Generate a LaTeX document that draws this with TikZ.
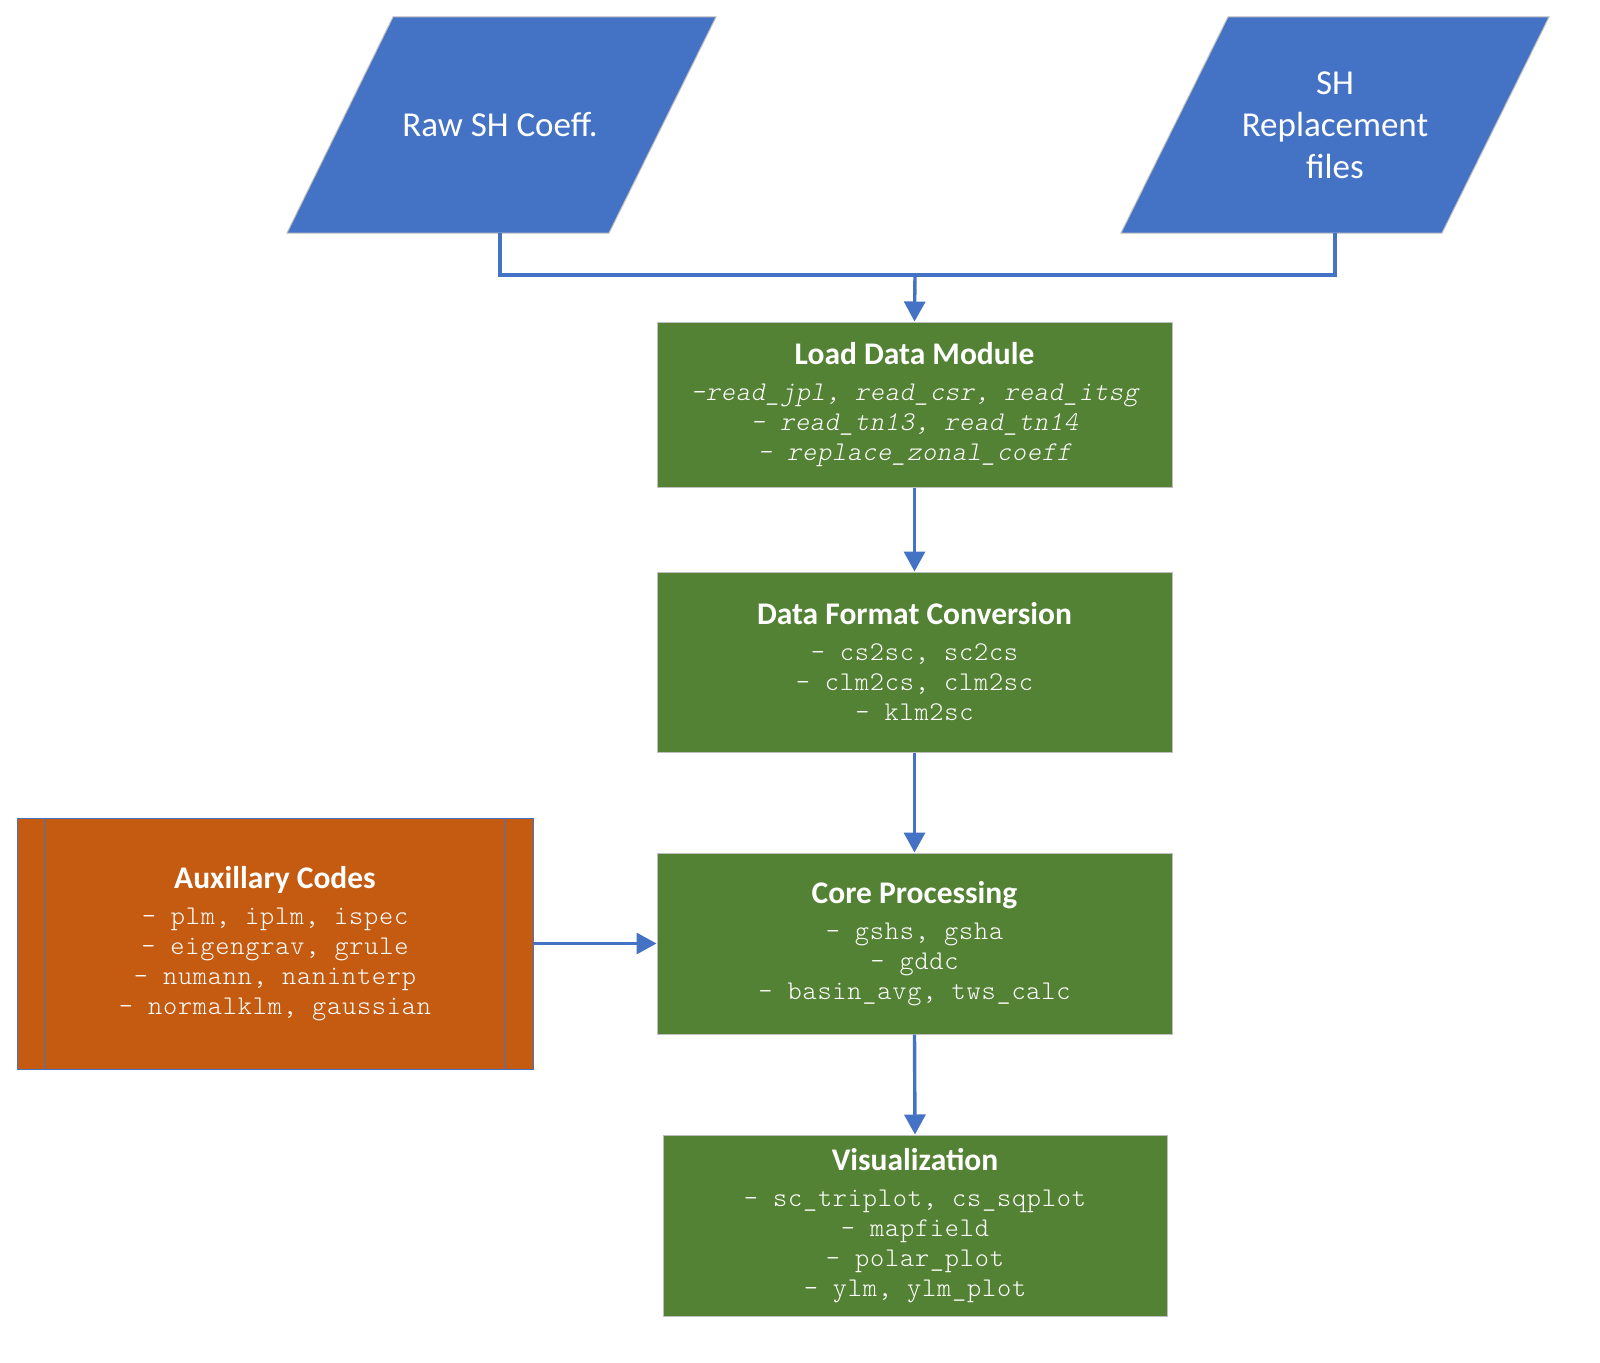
\documentclass[tikz,border=0pt]{standalone}
\usepackage{fontspec}
\setmainfont{Carlito}
\newfontfamily\cmono[LetterSpace=3]{Latin Modern Mono Light}
\newfontfamily\cmonoit[LetterSpace=3,FakeSlant=0.2]{Latin Modern Mono Light}
\usetikzlibrary{arrows.meta}
\definecolor{cblue}{HTML}{4472C4}
\definecolor{cgreen}{HTML}{548235}
\definecolor{corange}{HTML}{C55A11}
\definecolor{cedge}{HTML}{BFBFBF}
\tikzset{
  para/.style={fill=cblue, draw=cedge, line width=1pt},
  paratext/.style={text=white, align=center, font=\fontsize{35}{42}\selectfont},
  gbox/.style={fill=cgreen, draw=cedge, line width=1pt, text=white, align=center,
    inner sep=0pt, font=\cmono\fontsize{27}{30}\selectfont},
  obox/.style={fill=corange, draw=cblue, line width=0.8pt, text=white, align=center,
    inner sep=0pt, font=\cmono\fontsize{27}{30}\selectfont},
  conn/.style={draw=cblue, line width=3.4pt},
  arr/.style={conn, -{Triangle[length=20pt,width=21pt]}},
}
\newcommand{\ttl}[1]{{\fontspec{Carlito}\bfseries\fontsize{31.5}{31.5}\selectfont #1}\\[6pt]}
\newcommand{\itl}[1]{{\cmonoit\fontsize{27}{30}\selectfont #1}}
\begin{document}
\begin{tikzpicture}[x=1pt,y=-1pt]
\useasboundingbox (0,0) rectangle (1600,1362);
% parallelograms
\draw[para] (393,17) -- (716,17) -- (609,233) -- (287,233) -- cycle;
\node[paratext] (raw) at (500,125) {Raw SH Coeff.};
\draw[para] (1228,17) -- (1549,17) -- (1442,233) -- (1121,233) -- cycle;
\node[paratext] (shr) at (1335,125) {SH\\Replacement\\files};
\coordinate (rawb) at (500,233);
\coordinate (shrb) at (1335,233);
\coordinate (junc) at (915,275);
% boxes
\node[gbox, minimum width=515pt, minimum height=165pt] (load) at (914.5,404.5)
  {\ttl{Load Data Module}
   \itl{-read\_jpl, read\_csr, read\_itsg}\\
   \itl{- read\_tn13, read\_tn14}\\
   \itl{- replace\_zonal\_coeff}};
\node[gbox, minimum width=515pt, minimum height=180pt] (conv) at (914.5,662)
  {\ttl{Data Format Conversion}
   - cs2sc, sc2cs\\
   - clm2cs, clm2sc\\
   - klm2sc};
\node[gbox, minimum width=515pt, minimum height=181pt] (core) at (914.5,943.5)
  {\ttl{Core Processing}
   - gshs, gsha\\
   - gddc\\
   - basin\_avg, tws\_calc};
\node[gbox, minimum width=504pt, minimum height=181pt] (vis) at (915,1225.5)
  {\ttl{Visualization}
   - sc\_triplot, cs\_sqplot\\
   - mapfield\\
   - polar\_plot\\
   - ylm, ylm\_plot};
\node[obox, minimum width=516pt, minimum height=251pt] (aux) at (275,943.5)
  {\ttl{Auxillary Codes}
   - plm, iplm, ispec\\
   - eigengrav, grule\\
   - numann, naninterp\\
   - normalklm, gaussian};
\draw[cblue, line width=0.8pt] ([xshift=29pt]aux.north west) -- ([xshift=29pt]aux.south west);
\draw[cblue, line width=0.8pt] ([xshift=-28pt]aux.north east) -- ([xshift=-28pt]aux.south east);
% connectors
\draw[conn] (rawb) |- (junc) -| (shrb);
\draw[arr] (junc) -- (load.north);
\draw[arr] (load.south) -- (conv.north);
\draw[arr] (conv.south) -- (core.north);
\draw[arr] (core.south) -- (vis.north);
\draw[arr] (aux.east) -- (core.west);
\end{tikzpicture}
\end{document}
